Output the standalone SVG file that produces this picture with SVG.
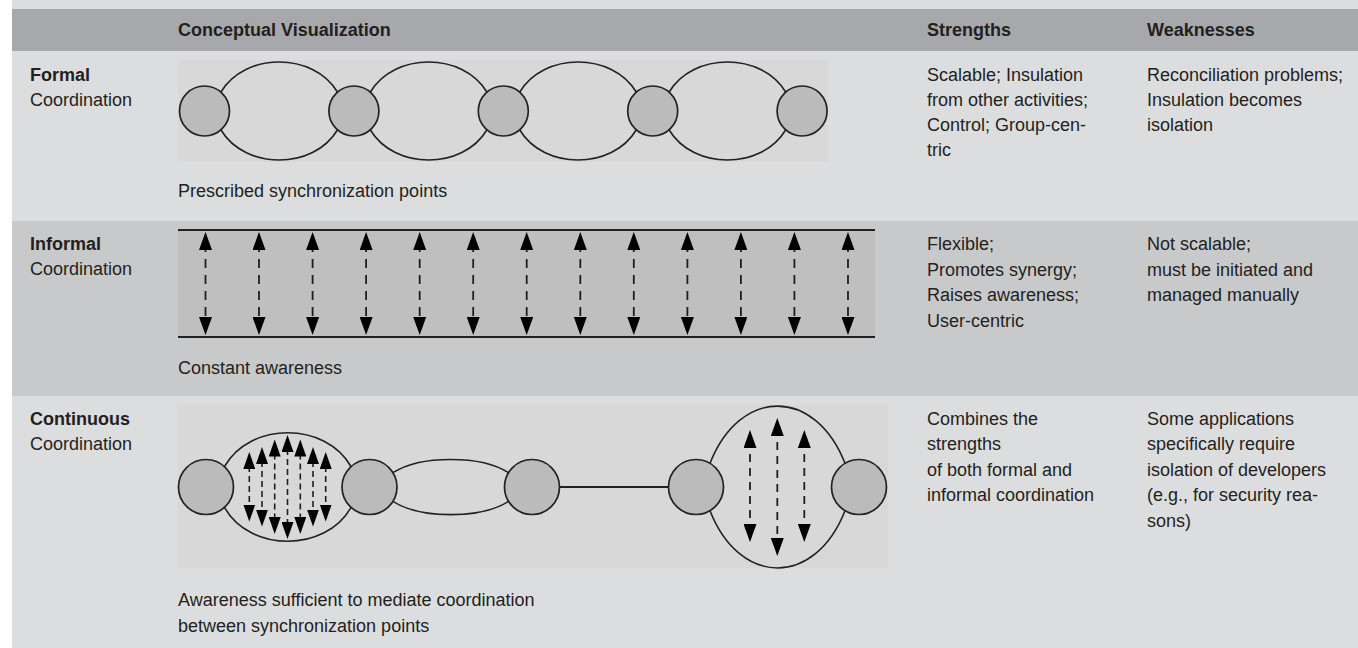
<svg xmlns="http://www.w3.org/2000/svg" width="1358" height="648" viewBox="0 0 1358 648">
<defs>
<style>
.t{font-family:"Liberation Sans",Arial,sans-serif;font-size:18px;fill:#231f20}
.b{font-weight:bold}
.node{fill:#bbbbbb;stroke:#222;stroke-width:1.7}
.arc{fill:none;stroke:#222;stroke-width:1.6}
.rail{stroke:#222;stroke-width:2.2}
.arr{stroke:#1e1e1e;stroke-width:1.8;stroke-dasharray:9 7;stroke-dashoffset:9;marker-start:url(#ah);marker-end:url(#ah)}
.arrs{stroke:#1e1e1e;stroke-width:1.6;stroke-dasharray:6 4;marker-start:url(#ahs);marker-end:url(#ahs)}
.arrm{stroke:#1e1e1e;stroke-width:1.8;stroke-dasharray:8 6;stroke-dashoffset:8;marker-start:url(#ah);marker-end:url(#ah)}
</style>
<marker id="ah" viewBox="0 0 18 13" refX="14" refY="6.5" markerWidth="18" markerHeight="13" markerUnits="userSpaceOnUse" orient="auto-start-reverse"><path d="M0,0 L18,6.5 L0,13 z" fill="#000"/></marker>
<marker id="ahs" viewBox="0 0 17 12" refX="13" refY="6" markerWidth="17" markerHeight="12" markerUnits="userSpaceOnUse" orient="auto-start-reverse"><path d="M0,0 L17,6 L0,12 z" fill="#000"/></marker>
</defs>

<g id="background">
<rect x="12" y="0" width="1346" height="648" fill="#dcdddf"/>
<rect x="12" y="9" width="1346" height="42" fill="#a7a8ab"/>
<rect x="12" y="221" width="1346" height="175" fill="#c8c9cb"/>
<rect x="178" y="60" width="650" height="102" fill="#d8d8d8"/>
<rect x="178" y="230" width="697" height="107" fill="#bfbfbf"/>
<rect x="177.5" y="405" width="710.5" height="163" fill="#d8d8d8"/>
</g>

<g id="header">
<text class="t b" x="178" y="36">Conceptual Visualization</text>
<text class="t b" x="927" y="36">Strengths</text>
<text class="t b" x="1147" y="36">Weaknesses</text>
</g>

<g id="labels">
<text class="t b" x="30" y="80.5">Formal</text>
<text class="t" x="30" y="105.5">Coordination</text>
<text class="t b" x="30" y="250">Informal</text>
<text class="t" x="30" y="275">Coordination</text>
<text class="t b" x="30" y="425">Continuous</text>
<text class="t" x="30" y="450">Coordination</text>
</g>

<g id="captions">
<text class="t" x="178" y="197">Prescribed synchronization points</text>
<text class="t" x="178" y="373.5">Constant awareness</text>
<text class="t" x="178" y="606">Awareness sufficient to mediate coordination</text>
<text class="t" x="178" y="631.5">between synchronization points</text>
</g>

<g id="strengths">
<text class="t" x="927" y="80.5">Scalable; Insulation</text>
<text class="t" x="927" y="105.5">from other activities;</text>
<text class="t" x="927" y="130.5">Control; Group-cen-</text>
<text class="t" x="927" y="155.5">tric</text>
<text class="t" x="927" y="250">Flexible;</text>
<text class="t" x="927" y="275.5">Promotes synergy;</text>
<text class="t" x="927" y="301">Raises awareness;</text>
<text class="t" x="927" y="326.5">User-centric</text>
<text class="t" x="927" y="424.5">Combines the</text>
<text class="t" x="927" y="450">strengths</text>
<text class="t" x="927" y="475.5">of both formal and</text>
<text class="t" x="927" y="501">informal coordination</text>
</g>

<g id="weaknesses">
<text class="t" x="1147" y="80.5">Reconciliation problems;</text>
<text class="t" x="1147" y="105.5">Insulation becomes</text>
<text class="t" x="1147" y="130.5">isolation</text>
<text class="t" x="1147" y="250">Not scalable;</text>
<text class="t" x="1147" y="275.5">must be initiated and</text>
<text class="t" x="1147" y="301">managed manually</text>
<text class="t" x="1147" y="424.5">Some applications</text>
<text class="t" x="1147" y="450">specifically require</text>
<text class="t" x="1147" y="475.5">isolation of developers</text>
<text class="t" x="1147" y="501">(e.g., for security rea-</text>
<text class="t" x="1147" y="526.5">sons)</text>
</g>

<g id="connectors">
<path class="arc" d="M221,92 C245,52 313.4,52 337.4,92"/>
<path class="arc" d="M221,130 C245,170 313.4,170 337.4,130"/>
<path class="arc" d="M370.4,92 C394.4,52 462.8,52 486.8,92"/>
<path class="arc" d="M370.4,130 C394.4,170 462.8,170 486.8,130"/>
<path class="arc" d="M519.8,92 C543.8,52 612.2,52 636.2,92"/>
<path class="arc" d="M519.8,130 C543.8,170 612.2,170 636.2,130"/>
<path class="arc" d="M669.2,92 C693.2,52 761.6,52 785.6,92"/>
<path class="arc" d="M669.2,130 C693.2,170 761.6,170 785.6,130"/>
<line class="rail" x1="178" y1="230" x2="875" y2="230"/>
<line class="rail" x1="178" y1="337" x2="875" y2="337"/>
<line class="arr" x1="205.5" y1="236" x2="205.5" y2="331"/>
<line class="arr" x1="259" y1="236" x2="259" y2="331"/>
<line class="arr" x1="312.6" y1="236" x2="312.6" y2="331"/>
<line class="arr" x1="366.1" y1="236" x2="366.1" y2="331"/>
<line class="arr" x1="419.7" y1="236" x2="419.7" y2="331"/>
<line class="arr" x1="473.2" y1="236" x2="473.2" y2="331"/>
<line class="arr" x1="526.7" y1="236" x2="526.7" y2="331"/>
<line class="arr" x1="580.3" y1="236" x2="580.3" y2="331"/>
<line class="arr" x1="633.8" y1="236" x2="633.8" y2="331"/>
<line class="arr" x1="687.4" y1="236" x2="687.4" y2="331"/>
<line class="arr" x1="740.9" y1="236" x2="740.9" y2="331"/>
<line class="arr" x1="794.4" y1="236" x2="794.4" y2="331"/>
<line class="arr" x1="848" y1="236" x2="848" y2="331"/>
<path class="arc" d="M224.5,466.5 C250,421.5 325.5,421.5 351,466.5"/>
<path class="arc" d="M224.5,507.5 C250,552.5 325.5,552.5 351,507.5"/>
<path class="arc" d="M393,472.7 C420,455 481.5,455 508.5,472.7"/>
<path class="arc" d="M393,501.3 C420,519 481.5,519 508.5,501.3"/>
<line class="rail" x1="559.5" y1="487" x2="668.5" y2="487"/>
<path class="arc" d="M710,463.3 C740,387 815,387 845,463.3"/>
<path class="arc" d="M710,510.7 C740,587 815,587 845,510.7"/>
<line class="arrs" x1="249.3" y1="456" x2="249.3" y2="517.5"/>
<line class="arrs" x1="262" y1="451" x2="262" y2="522.5"/>
<line class="arrs" x1="274.7" y1="443.5" x2="274.7" y2="530"/>
<line class="arrs" x1="287.5" y1="439" x2="287.5" y2="535"/>
<line class="arrs" x1="300.3" y1="443.5" x2="300.3" y2="530"/>
<line class="arrs" x1="313" y1="451" x2="313" y2="522.5"/>
<line class="arrs" x1="325.7" y1="456" x2="325.7" y2="517.5"/>
<line class="arrm" x1="750" y1="434" x2="750" y2="538"/>
<line class="arrm" x1="777.3" y1="422" x2="777.3" y2="552"/>
<line class="arrm" x1="804.3" y1="434" x2="804.3" y2="538"/>
</g>

<g id="formal-nodes">
<g id="f1"><circle class="node" cx="204.5" cy="111" r="25"/></g>
<g id="f2"><circle class="node" cx="353.9" cy="111" r="25"/></g>
<g id="f3"><circle class="node" cx="503.3" cy="111" r="25"/></g>
<g id="f4"><circle class="node" cx="652.7" cy="111" r="25"/></g>
<g id="f5"><circle class="node" cx="802.1" cy="111" r="25"/></g>
</g>
<g id="continuous-nodes">
<g id="c1"><circle class="node" cx="206" cy="487" r="27.5"/></g>
<g id="c2"><circle class="node" cx="369.5" cy="487" r="27.5"/></g>
<g id="c3"><circle class="node" cx="532" cy="487" r="27.5"/></g>
<g id="c4"><circle class="node" cx="696" cy="487" r="27.5"/></g>
<g id="c5"><circle class="node" cx="859" cy="487" r="27.5"/></g>
</g>
</svg>
